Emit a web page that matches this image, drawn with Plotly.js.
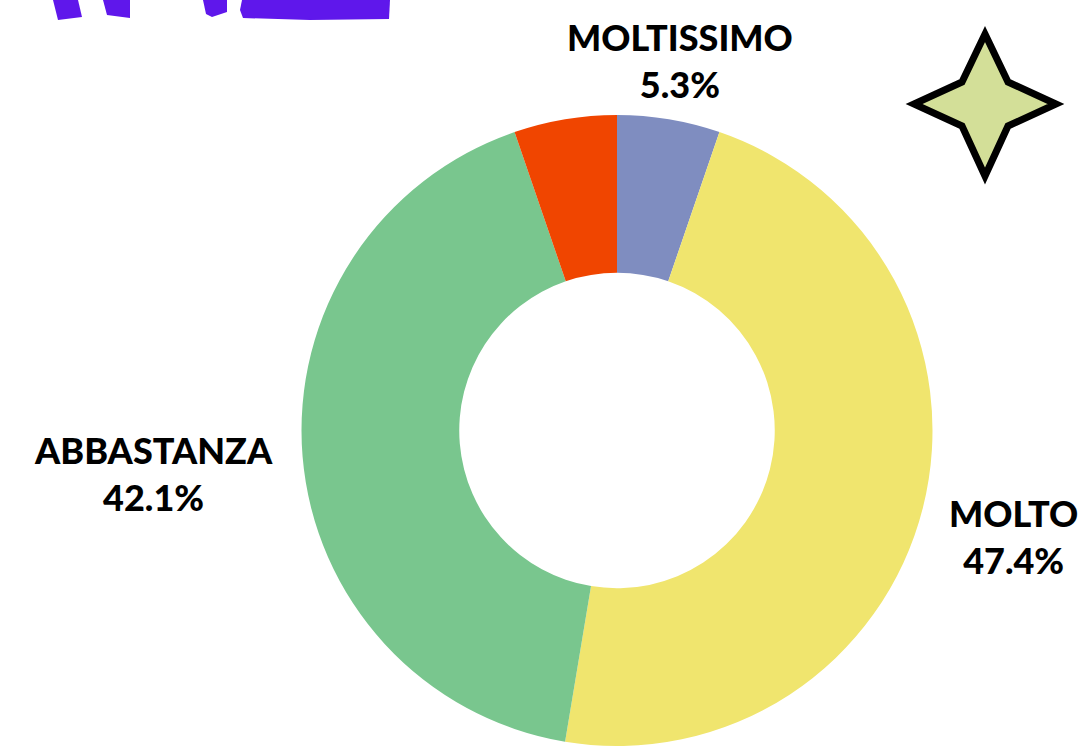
<!DOCTYPE html>
<html>
<head>
<meta charset="utf-8">
<script src="https://cdn.plot.ly/plotly-3.0.1.min.js"></script>
<style>html,body{margin:0;padding:0;background:#fff;}#chart{width:1083px;height:746px;}</style>
</head>
<body>
<div id="chart"></div>
<script>
const categories = ["MOLTISSIMO", "MOLTO", "ABBASTANZA", "POCO"];
const counts = [1, 9, 8, 1];
const sliceColors = ["#7f8dc0", "#f0e56e", "#79c68e", "#f04500"];
const showLabel = [true, true, true, false];

const W = 1083, H = 746;
const total = counts.reduce((a, b) => a + b, 0);
const pct = counts.map(v => (100 * v / total).toFixed(1) + "%");

// label placements (pixels from top-left)
const labelPos = [[680, 60], [1013, 536], [153, 473], null];

function px(x) { return x / W; }
function py(y) { return 1 - y / H; }
function pathFrom(pts) {
  return "M" + pts.map(p => px(p[0]) + "," + py(p[1])).join(" L") + " Z";
}

const trace = {
  type: "pie",
  labels: categories,
  values: counts,
  marker: { colors: sliceColors, line: { width: 0 } },
  hole: 0.5,
  sort: false,
  direction: "clockwise",
  rotation: 0,
  textinfo: "none",
  hoverinfo: "label+percent",
  showlegend: false,
  domain: { x: [px(617 - 317), px(617 + 317)], y: [0, py(115)] }
};

const annotations = [];
categories.forEach((c, i) => {
  if (!showLabel[i]) return;
  annotations.push({
    xref: "paper", yref: "paper",
    x: px(labelPos[i][0]), y: py(labelPos[i][1]),
    xanchor: "center", yanchor: "middle",
    text: c + "<br>" + pct[i],
    showarrow: false,
    align: "center",
    font: { family: "Lato, 'Open Sans', sans-serif", size: 36, weight: 900, color: "#000000" }
  });
});

const purple = "#5f17eb";
const shapes = [
  { type: "path", xref: "paper", yref: "paper", path: pathFrom([[53,0],[78,0],[82,17],[58,20]]), fillcolor: purple, line: { width: 0 } },
  { type: "path", xref: "paper", yref: "paper", path: pathFrom([[103,0],[130,0],[130,18],[107,15]]), fillcolor: purple, line: { width: 0 } },
  { type: "path", xref: "paper", yref: "paper", path: pathFrom([[203,0],[227,0],[227,12],[212,17],[206,14]]), fillcolor: purple, line: { width: 0 } },
  { type: "path", xref: "paper", yref: "paper", path: pathFrom([[242,0],[390,0],[389,19],[310,20],[243,18],[240,10]]), fillcolor: purple, line: { width: 0 } },
  { type: "path", xref: "paper", yref: "paper",
    path: pathFrom([[985,34],[1008,82],[1056,104],[1008,126],[985,176],[962,126],[914,104],[962,82]]),
    fillcolor: "#d3df98", line: { color: "#000000", width: 7 } }
];

const layout = {
  width: W, height: H,
  margin: { l: 0, r: 0, t: 0, b: 0 },
  paper_bgcolor: "#ffffff",
  plot_bgcolor: "#ffffff",
  showlegend: false,
  annotations: annotations,
  shapes: shapes
};

Plotly.newPlot("chart", [trace], layout, { displayModeBar: false, staticPlot: true });
</script>
</body>
</html>
